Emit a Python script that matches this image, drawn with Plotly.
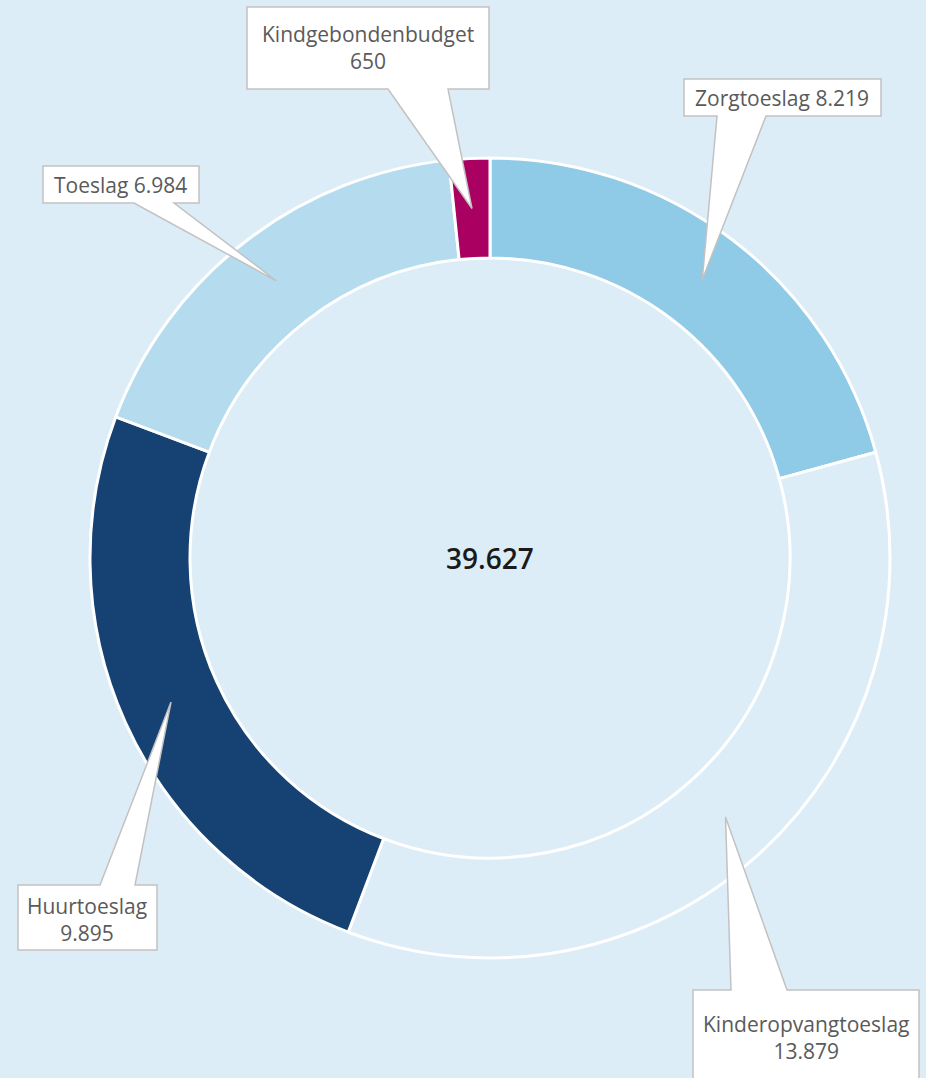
import math
import plotly.graph_objects as go

# ---- data ----
categories = ["Zorgtoeslag", "Kinderopvangtoeslag", "Huurtoeslag", "Toeslag", "Kindgebondenbudget"]
values = [8219, 13879, 9895, 6984, 650]
colors = ["#8fcae6", "#dcedf8", "#154273", "#b4dbee", "#a90061"]
label_two_lines = [False, True, True, False, True]

W, H = 926, 1078
BG = "#dcedf8"

def nl(v):
    return f"{v:,}".replace(",", ".")

total = sum(values)

# donut geometry (pixels)
CX, CY, R = 490, 558, 400
HOLE = 0.75

def px(x):
    return x / W

def py(y):
    return 1 - y / H

fig = go.Figure(go.Pie(
    labels=categories,
    values=values,
    sort=False,
    direction="clockwise",
    rotation=0,
    hole=HOLE,
    textinfo="none",
    hoverinfo="label+value",
    marker=dict(colors=colors, line=dict(color="white", width=3)),
    domain=dict(x=[px(CX - R), px(CX + R)], y=[py(CY + R), py(CY - R)]),
    showlegend=False,
))

# callout boxes: (x0, y0, x1, y1, base_a, base_b, side, text_cx, text_cy)
boxes = {
    "Kindgebondenbudget": (247, 7, 489, 89, 388, 448, "bottom", 368, 47),
    "Zorgtoeslag": (684, 79, 881, 116, 717, 766, "bottom", 782, 98),
    "Toeslag": (43, 166, 199, 203, 134, 174, "bottom", 121, 185),
    "Huurtoeslag": (18, 885, 157, 950, 100, 135, "top", 87, 919),
    "Kinderopvangtoeslag": (693, 990, 919, 1090, 731, 787, "top", 806, 1037),
}

shapes = []
annotations = []
cum = 0
mid_r = R * (1 + HOLE) / 2
for cat, v, two in zip(categories, values, label_two_lines):
    ang = 2 * math.pi * (cum + v / 2) / total
    cum += v
    tx = CX + mid_r * math.sin(ang)
    ty = CY - mid_r * math.cos(ang)
    x0, y0, x1, y1, ba, bb, side, tcx, tcy = boxes[cat]
    if side == "bottom":
        pts = [(x0, y0), (x1, y0), (x1, y1), (bb, y1), (tx, ty), (ba, y1), (x0, y1)]
    else:
        pts = [(x0, y0), (ba, y0), (tx, ty), (bb, y0), (x1, y0), (x1, y1), (x0, y1)]
    path = "M " + " L ".join(f"{px(a):.5f},{py(b):.5f}" for a, b in pts) + " Z"
    shapes.append(dict(type="path", xref="paper", yref="paper", path=path,
                       fillcolor="white", line=dict(color="#c2c2c2", width=1.5),
                       layer="above"))
    txt = f"{cat}<br>{nl(v)}" if two else f"{cat} {nl(v)}"
    annotations.append(dict(text=txt, x=px(tcx), y=py(tcy), xref="paper", yref="paper",
                            showarrow=False, xanchor="center", yanchor="middle",
                            font=dict(family="Open Sans, Noto Sans, sans-serif", size=21, color="#5a5a5a")))

annotations.append(dict(text=nl(total), x=px(CX), y=py(CY), xref="paper", yref="paper",
                        showarrow=False, xanchor="center", yanchor="middle",
                        font=dict(family="Open Sans, Noto Sans, sans-serif", size=28,
                                  color="#1a1a1a", weight=600)))

fig.update_layout(
    width=W, height=H,
    margin=dict(l=0, r=0, t=0, b=0),
    paper_bgcolor=BG, plot_bgcolor=BG,
    shapes=shapes, annotations=annotations,
)

fig.write_html(
    "out.html",
    config={"displayModeBar": False},
    post_script="document.body.style.margin='0';document.body.style.background='%s';" % BG,
)
